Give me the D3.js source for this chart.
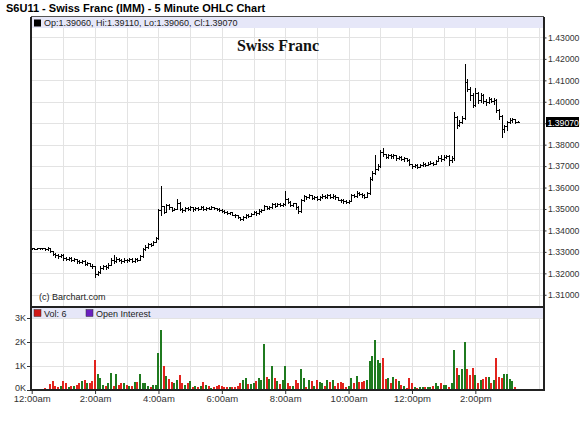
<!DOCTYPE html>
<html>
<head>
<meta charset="utf-8">
<script src="https://cdn.jsdelivr.net/npm/d3@7"></script>
<style>
body { margin: 0; background: #fff; }
text { font-family: "Liberation Sans", Arial, sans-serif; }
</style>
</head>
<body>
<script>
// 5 minute OHLC bars for S6U11, 12:00am to ~3:20pm

var priceTicks = [1.31, 1.32, 1.33, 1.34, 1.35, 1.36, 1.37, 1.38, 1.39, 1.40, 1.41, 1.42, 1.43];
var volTicks = [0, 1000, 2000, 3000];
var timeLabels = ["12:00am", "2:00am", "4:00am", "6:00am", "8:00am", "10:00am", "12:00pm", "2:00pm"];

var opens = [
  1.3316,1.3317,1.3315,1.3318,1.3316,1.3317,1.3313,1.3316,1.3302,1.3290,1.3284,1.3280,
  1.3286,1.3270,1.3266,1.3272,1.3262,1.3266,1.3258,1.3252,1.3258,1.3244,1.3248,1.3236,
  1.3232,1.3196,1.3206,1.3224,1.3232,1.3228,1.3240,1.3262,1.3256,1.3268,1.3262,1.3256,
  1.3264,1.3260,1.3266,1.3258,1.3266,1.3262,1.3280,1.3312,1.3324,1.3336,1.3332,1.3348,
  1.3364,1.3496,1.3512,1.3488,1.3518,1.3508,1.3496,1.3502,1.3530,1.3500,1.3494,1.3506,
  1.3500,1.3508,1.3498,1.3504,1.3500,1.3510,1.3500,1.3506,1.3502,1.3508,1.3504,1.3500,
  1.3496,1.3490,1.3486,1.3480,1.3484,1.3474,1.3470,1.3462,1.3452,1.3462,1.3472,1.3468,
  1.3478,1.3488,1.3480,1.3492,1.3496,1.3514,1.3504,1.3510,1.3522,1.3516,1.3522,1.3518,
  1.3524,1.3548,1.3532,1.3520,1.3526,1.3508,1.3490,1.3540,1.3560,1.3554,1.3564,1.3552,
  1.3556,1.3548,1.3556,1.3562,1.3556,1.3566,1.3556,1.3562,1.3554,1.3544,1.3540,1.3536,
  1.3532,1.3538,1.3565,1.3560,1.3576,1.3570,1.3564,1.3558,1.3574,1.3640,1.3670,1.3686,
  1.3700,1.3768,1.3755,1.3742,1.3752,1.3746,1.3750,1.3736,1.3744,1.3732,1.3736,1.3730,
  1.3708,1.3700,1.3704,1.3698,1.3706,1.3712,1.3706,1.3712,1.3716,1.3710,1.3724,1.3740,
  1.3732,1.3744,1.3748,1.3730,1.3738,1.3930,1.3890,1.3905,1.3925,1.4090,1.4060,1.4030,
  1.3985,1.4040,1.4010,1.4030,1.4005,1.3998,1.4015,1.4005,1.4010,1.3960,1.3935,1.3875,
  1.3885,1.3905,1.3915,1.3918,1.3906
];
var highs = [
  1.3320,1.3319,1.3320,1.3319,1.3319,1.3318,1.3322,1.3318,1.3304,1.3294,1.3288,1.3290,
  1.3288,1.3276,1.3278,1.3274,1.3272,1.3268,1.3262,1.3264,1.3260,1.3254,1.3250,1.3242,
  1.3236,1.3212,1.3232,1.3240,1.3238,1.3246,1.3270,1.3286,1.3274,1.3272,1.3266,1.3270,
  1.3268,1.3272,1.3270,1.3272,1.3270,1.3286,1.3318,1.3330,1.3342,1.3340,1.3352,1.3368,
  1.3502,1.3605,1.3516,1.3524,1.3522,1.3510,1.3506,1.3547,1.3534,1.3504,1.3510,1.3510,
  1.3512,1.3510,1.3508,1.3508,1.3514,1.3512,1.3510,1.3508,1.3512,1.3510,1.3506,1.3504,
  1.3498,1.3494,1.3490,1.3488,1.3486,1.3478,1.3472,1.3464,1.3468,1.3478,1.3476,1.3482,
  1.3492,1.3490,1.3498,1.3502,1.3520,1.3516,1.3516,1.3528,1.3526,1.3528,1.3526,1.3530,
  1.3582,1.3552,1.3536,1.3530,1.3528,1.3512,1.3546,1.3566,1.3562,1.3568,1.3566,1.3562,
  1.3560,1.3560,1.3568,1.3566,1.3572,1.3568,1.3568,1.3564,1.3558,1.3548,1.3546,1.3540,
  1.3544,1.3572,1.3570,1.3584,1.3580,1.3574,1.3570,1.3580,1.3648,1.3678,1.3753,1.3708,
  1.3776,1.3786,1.3758,1.3758,1.3756,1.3756,1.3752,1.3748,1.3746,1.3742,1.3738,1.3732,
  1.3712,1.3710,1.3708,1.3712,1.3718,1.3716,1.3718,1.3722,1.3720,1.3730,1.3748,1.3753,
  1.3750,1.3754,1.3750,1.3746,1.3954,1.3935,1.3915,1.3935,1.4174,1.4104,1.4070,1.4040,
  1.4066,1.4045,1.4043,1.4035,1.4012,1.4022,1.4018,1.4016,1.4012,1.3965,1.3940,1.3893,
  1.3912,1.3926,1.3924,1.3918,1.3911
];
var lows = [
  1.3314,1.3313,1.3314,1.3313,1.3314,1.3310,1.3308,1.3298,1.3284,1.3276,1.3272,1.3274,
  1.3264,1.3260,1.3262,1.3256,1.3258,1.3250,1.3246,1.3248,1.3240,1.3238,1.3232,1.3226,
  1.3185,1.3190,1.3200,1.3218,1.3220,1.3226,1.3238,1.3250,1.3252,1.3256,1.3250,1.3252,
  1.3254,1.3256,1.3252,1.3254,1.3256,1.3260,1.3278,1.3308,1.3320,1.3326,1.3330,1.3346,
  1.3362,1.3470,1.3480,1.3484,1.3498,1.3490,1.3494,1.3498,1.3494,1.3488,1.3490,1.3494,
  1.3496,1.3492,1.3494,1.3496,1.3498,1.3494,1.3496,1.3498,1.3500,1.3500,1.3494,1.3490,
  1.3486,1.3480,1.3476,1.3476,1.3470,1.3464,1.3458,1.3448,1.3450,1.3460,1.3462,1.3466,
  1.3476,1.3474,1.3478,1.3488,1.3494,1.3498,1.3500,1.3506,1.3510,1.3512,1.3512,1.3514,
  1.3520,1.3526,1.3514,1.3516,1.3500,1.3482,1.3486,1.3536,1.3548,1.3550,1.3546,1.3548,
  1.3542,1.3544,1.3550,1.3550,1.3552,1.3550,1.3550,1.3548,1.3540,1.3534,1.3530,1.3528,
  1.3530,1.3536,1.3554,1.3558,1.3564,1.3558,1.3552,1.3556,1.3570,1.3636,1.3664,1.3680,
  1.3696,1.3748,1.3736,1.3738,1.3740,1.3740,1.3730,1.3732,1.3728,1.3724,1.3722,1.3704,
  1.3692,1.3694,1.3692,1.3696,1.3702,1.3700,1.3704,1.3708,1.3706,1.3708,1.3722,1.3726,
  1.3728,1.3738,1.3706,1.3720,1.3730,1.3880,1.3885,1.3900,1.3920,1.4050,1.4010,1.3975,
  1.3980,1.3995,1.4000,1.3995,1.3985,1.3995,1.3998,1.3990,1.3950,1.3920,1.3837,1.3860,
  1.3870,1.3900,1.3908,1.3902,1.3906
];
var closes = [
  1.3317,1.3315,1.3318,1.3316,1.3317,1.3313,1.3316,1.3302,1.3290,1.3284,1.3280,1.3286,
  1.3270,1.3266,1.3272,1.3262,1.3266,1.3258,1.3252,1.3258,1.3244,1.3248,1.3236,1.3232,
  1.3196,1.3206,1.3224,1.3232,1.3228,1.3240,1.3262,1.3256,1.3268,1.3262,1.3256,1.3264,
  1.3260,1.3266,1.3258,1.3266,1.3262,1.3280,1.3312,1.3324,1.3336,1.3332,1.3348,1.3364,
  1.3496,1.3512,1.3488,1.3518,1.3508,1.3496,1.3502,1.3530,1.3500,1.3494,1.3506,1.3500,
  1.3508,1.3498,1.3504,1.3500,1.3510,1.3500,1.3506,1.3502,1.3508,1.3504,1.3500,1.3496,
  1.3490,1.3486,1.3480,1.3484,1.3474,1.3470,1.3462,1.3452,1.3462,1.3472,1.3468,1.3478,
  1.3488,1.3480,1.3492,1.3496,1.3514,1.3504,1.3510,1.3522,1.3516,1.3522,1.3518,1.3524,
  1.3548,1.3532,1.3520,1.3526,1.3508,1.3490,1.3540,1.3560,1.3554,1.3564,1.3552,1.3556,
  1.3548,1.3556,1.3562,1.3556,1.3566,1.3556,1.3562,1.3554,1.3544,1.3540,1.3536,1.3532,
  1.3538,1.3565,1.3560,1.3576,1.3570,1.3564,1.3558,1.3574,1.3640,1.3670,1.3686,1.3700,
  1.3768,1.3755,1.3742,1.3752,1.3746,1.3750,1.3736,1.3744,1.3732,1.3736,1.3730,1.3708,
  1.3700,1.3704,1.3698,1.3706,1.3712,1.3706,1.3712,1.3716,1.3710,1.3724,1.3740,1.3732,
  1.3744,1.3748,1.3730,1.3738,1.3930,1.3890,1.3905,1.3925,1.4090,1.4060,1.4030,1.3985,
  1.4040,1.4010,1.4030,1.4005,1.3998,1.4015,1.4005,1.4010,1.3960,1.3935,1.3875,1.3885,
  1.3905,1.3915,1.3918,1.3906,1.3907
];
var volumes = [
  40,30,50,30,60,100,40,250,380,170,110,170,
  380,300,110,170,170,210,300,380,420,280,280,380,
  1265,675,490,210,170,300,700,160,675,210,280,300,
  210,170,170,350,350,675,300,300,170,110,210,210,
  1550,2490,985,590,450,350,300,420,630,280,210,300,
  380,110,170,110,170,350,210,170,70,110,170,210,
  170,110,110,110,140,110,170,280,420,520,240,250,
  300,380,520,420,1900,560,450,985,490,380,250,420,
  985,300,170,150,420,280,870,520,110,420,380,170,
  420,350,280,170,420,350,420,170,310,350,280,110,
  170,490,280,590,350,350,380,420,1220,1400,2070,1240,
  1125,1335,450,490,280,535,450,390,210,170,70,490,
  280,110,70,110,110,110,110,110,170,310,170,310,
  210,210,110,310,1660,900,630,870,2010,885,630,915,
  630,310,420,450,560,560,280,420,1335,535,490,675,
  675,450,380,110,6
];

//page size and panel edges
var width = 580, height = 424;
var left = 31, right = 543.5,
    priceTop = 16.5, priceBottom = 307,
    volTop = 318, volBottom = 390;

var svg = d3.select("body")
    .append("svg")
    .attr("width", width)
    .attr("height", height);

//time of each bar
var start = new Date(2011, 6, 6, 0, 0);
var times = closes.map(function(d, i){ return d3.timeMinute.offset(start, i * 5); });
var end = d3.timeMinute.offset(start, 970);

var x = d3.scaleTime()
    .domain([start, end])
    .range([31.7, 544]);

var y = d3.scaleLinear()
    .domain([1.3043, 1.44])
    .range([priceBottom, 16]);

var yv = d3.scaleLinear()
    .domain([0, 3000])
    .range([volBottom, volTop]);

var px = function(t){ return Math.round(x(t)) + 0.5; };

//title
svg.append("text")
    .attr("x", 6)
    .attr("y", 12)
    .style("font-size", "11px")
    .style("font-weight", "bold")
    .attr("fill", "#000")
    .text("S6U11 - Swiss Franc (IMM) - 5 Minute OHLC Chart");

//grid
var hours = d3.timeHour.range(d3.timeHour.offset(start, 1), end);
var grid = svg.append("g")
    .attr("stroke", "#e3e3e3")
    .attr("shape-rendering", "crispEdges");

grid.selectAll(".vgrid")
    .data(hours)
    .enter()
    .append("line")
    .attr("x1", px).attr("x2", px)
    .attr("y1", priceTop).attr("y2", priceBottom);

grid.selectAll(".vgridv")
    .data(hours)
    .enter()
    .append("line")
    .attr("x1", px).attr("x2", px)
    .attr("y1", volTop).attr("y2", volBottom);

grid.selectAll(".hgrid")
    .data(priceTicks)
    .enter()
    .append("line")
    .attr("x1", left).attr("x2", right)
    .attr("y1", function(d){ return Math.round(y(d)) + 0.5; })
    .attr("y2", function(d){ return Math.round(y(d)) + 0.5; });

grid.selectAll(".hgridv")
    .data(volTicks.slice(1))
    .enter()
    .append("line")
    .attr("x1", left).attr("x2", right)
    .attr("y1", function(d){ return Math.round(yv(d)) + 0.5; })
    .attr("y2", function(d){ return Math.round(yv(d)) + 0.5; });

//header bands
svg.append("rect")
    .attr("x", left).attr("y", 17)
    .attr("width", right - left).attr("height", 11)
    .attr("fill", "#e6e7f8");

svg.append("rect")
    .attr("x", left).attr("y", 308)
    .attr("width", right - left).attr("height", 10)
    .attr("fill", "#e6e7f8");

svg.append("rect")
    .attr("x", 34).attr("y", 19.5)
    .attr("width", 7).attr("height", 7)
    .attr("fill", "#000");

svg.append("text")
    .attr("x", 44).attr("y", 26)
    .style("font-size", "9px")
    .attr("fill", "#222")
    .text("Op:1.39060, Hi:1.39110, Lo:1.39060, Cl:1.39070");

svg.append("rect")
    .attr("x", 34).attr("y", 309.5)
    .attr("width", 7).attr("height", 7)
    .attr("fill", "#d01818").attr("stroke", "#333").attr("stroke-width", 0.5);

svg.append("text")
    .attr("x", 44).attr("y", 316.5)
    .style("font-size", "9px")
    .attr("fill", "#222")
    .text("Vol: 6");

svg.append("rect")
    .attr("x", 86).attr("y", 309.5)
    .attr("width", 7).attr("height", 7)
    .attr("fill", "#6a1fc0").attr("stroke", "#333").attr("stroke-width", 0.5);

svg.append("text")
    .attr("x", 96).attr("y", 316.5)
    .style("font-size", "9px")
    .attr("fill", "#222")
    .text("Open Interest");

//watermark and credit
svg.append("text")
    .attr("x", 278).attr("y", 51)
    .attr("text-anchor", "middle")
    .style("font-family", "'Liberation Serif', 'Times New Roman', serif")
    .style("font-size", "16px")
    .style("font-weight", "bold")
    .attr("fill", "#111")
    .text("Swiss Franc");

svg.append("text")
    .attr("x", 39).attr("y", 300)
    .style("font-size", "9px")
    .attr("fill", "#222")
    .text("(c) Barchart.com");

//OHLC bars
var bars = svg.append("g")
    .attr("stroke", "#000")
    .attr("stroke-width", 1)
    .attr("shape-rendering", "crispEdges");

var bar = bars.selectAll(".bar")
    .data(times)
    .enter()
    .append("g")
    .attr("class", "bar");

bar.append("line")
    .attr("x1", function(d){ return px(d); })
    .attr("x2", function(d){ return px(d); })
    .attr("y1", function(d, i){ return y(highs[i]); })
    .attr("y2", function(d, i){ return y(lows[i]) + 1; });

bar.append("line")
    .attr("x1", function(d){ return px(d) - 1.5; })
    .attr("x2", function(d){ return px(d); })
    .attr("y1", function(d, i){ return Math.round(y(opens[i])) + 0.5; })
    .attr("y2", function(d, i){ return Math.round(y(opens[i])) + 0.5; });

bar.append("line")
    .attr("x1", function(d){ return px(d); })
    .attr("x2", function(d){ return px(d) + 1.5; })
    .attr("y1", function(d, i){ return Math.round(y(closes[i])) + 0.5; })
    .attr("y2", function(d, i){ return Math.round(y(closes[i])) + 0.5; });

//volume bars, coloured by bar direction
svg.append("g")
    .attr("shape-rendering", "crispEdges")
    .selectAll("rect")
    .data(times)
    .enter()
    .append("rect")
    .attr("x", function(d){ return Math.round(x(d)) - 1; })
    .attr("width", 2)
    .attr("y", function(d, i){ return yv(volumes[i]); })
    .attr("height", function(d, i){ return volBottom - yv(volumes[i]); })
    .attr("fill", function(d, i){
        if (closes[i] > opens[i]) return "#1f7a1f";
        if (closes[i] < opens[i]) return "#e2231d";
        return "#555";
    });

//panel borders
var frame = svg.append("g")
    .attr("fill", "none")
    .attr("shape-rendering", "crispEdges");

frame.append("line")
    .attr("x1", left).attr("x2", right)
    .attr("y1", priceTop).attr("y2", priceTop)
    .attr("stroke", "#555");
frame.append("line")
    .attr("x1", left - 1).attr("x2", right + 1)
    .attr("y1", priceBottom).attr("y2", priceBottom)
    .attr("stroke", "#222").attr("stroke-width", 2);
frame.append("line")
    .attr("x1", left - 1).attr("x2", right + 1)
    .attr("y1", volBottom).attr("y2", volBottom)
    .attr("stroke", "#222").attr("stroke-width", 2);
frame.append("line")
    .attr("x1", left - 0.5).attr("x2", left - 0.5)
    .attr("y1", priceTop).attr("y2", volBottom)
    .attr("stroke", "#222").attr("stroke-width", 2);
frame.append("line")
    .attr("x1", right + 0.5).attr("x2", right + 0.5)
    .attr("y1", priceTop).attr("y2", volBottom)
    .attr("stroke", "#222").attr("stroke-width", 2);

//price axis on the right
var priceAxis = svg.append("g")
    .attr("transform", "translate(" + (right + 1) + ",0)")
    .call(d3.axisRight(y)
        .tickValues(priceTicks)
        .tickFormat(d3.format(".5f"))
        .tickSize(2)
        .tickPadding(1.5));
priceAxis.select(".domain").remove();
priceAxis.selectAll("text")
    .style("font-size", "8.7px")
    .attr("fill", "#333");
priceAxis.selectAll("line").attr("stroke", "#333");

//last price marker
var last = closes[closes.length - 1];
svg.append("rect")
    .attr("x", 546).attr("y", Math.round(y(last)) - 5)
    .attr("width", 33).attr("height", 10)
    .attr("fill", "#000");
svg.append("text")
    .attr("x", 547.5).attr("y", Math.round(y(last)) + 3.5)
    .style("font-size", "8.7px")
    .attr("fill", "#fff")
    .text(d3.format(".5f")(last));

//volume axis on the left
var volAxis = svg.append("g")
    .attr("transform", "translate(" + (left - 1) + ",0)")
    .call(d3.axisLeft(yv)
        .tickValues(volTicks)
        .tickFormat(function(d){ return (d / 1000) + "K"; })
        .tickSize(3)
        .tickPadding(1));
volAxis.select(".domain").remove();
volAxis.selectAll("text")
    .style("font-size", "9px")
    .attr("dy", function(d){ return d === 0 ? "0.1em" : "0.32em"; })
    .attr("fill", "#333");
volAxis.selectAll("line").attr("stroke", "#333");

//time axis
var labelTimes = timeLabels.map(function(d, i){ return d3.timeHour.offset(start, i * 2); });
var timeAxis = svg.append("g")
    .attr("transform", "translate(0," + (volBottom + 1) + ")")
    .call(d3.axisBottom(x)
        .tickValues(labelTimes)
        .tickFormat(function(d, i){ return timeLabels[i]; })
        .tickSize(3)
        .tickPadding(1.5));
timeAxis.select(".domain").remove();
timeAxis.selectAll("text")
    .style("font-size", "9.5px")
    .attr("fill", "#333");
timeAxis.selectAll("line").attr("stroke", "#333");
</script>
</body>
</html>
